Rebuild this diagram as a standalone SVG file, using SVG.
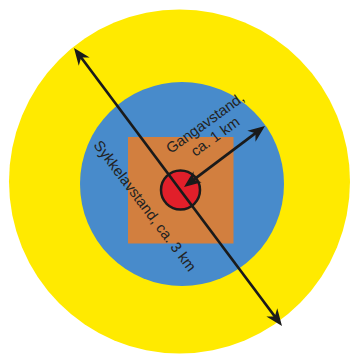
<svg xmlns="http://www.w3.org/2000/svg" width="352" height="354" viewBox="0 0 352 354">
  <style>
    .lbl { font-family: "Liberation Sans", Arial, sans-serif; font-size: 14.8px; fill: #222; text-anchor: middle; }
    .arrow { stroke: #1a1a1a; stroke-width: 2.7; fill: none; marker-start: url(#head); marker-end: url(#head); }
  </style>
  <defs>
    <marker id="head" markerUnits="userSpaceOnUse" markerWidth="20" markerHeight="16" viewBox="0 -8 20 16" refX="6" refY="0" orient="auto-start-reverse">
      <path d="M17,0 L0,-6.8 L5,0 L0,6.8 Z" fill="#1a1a1a"/>
    </marker>
  </defs>
  <rect width="352" height="354" fill="#ffffff"/>
  <g id="zone-sykkel">
    <ellipse cx="179.5" cy="181.5" rx="170.5" ry="172" fill="#ffea00"/>
  </g>
  <g id="zone-gang">
    <circle cx="182" cy="184" r="102" fill="#488bcb"/>
  </g>
  <g id="sentrum">
    <rect x="128" y="137" width="105.5" height="106.5" fill="#d27f3f"/>
  </g>
  <g id="punkt">
    <circle cx="180.5" cy="190" r="19.5" fill="#e11f2a" stroke="#1a1a1a" stroke-width="2.5"/>
  </g>
  <g id="connectors">
    <line class="arrow" x1="80.6" y1="56.8" x2="275.4" y2="317.2"/>
    <line class="arrow" x1="192.8" y1="180.4" x2="256.2" y2="132.6"/>
  </g>
  <g id="labels">
    <text class="lbl" transform="translate(208,127) rotate(-36)">Gangavstand,</text>
    <text class="lbl" transform="translate(218,140.5) rotate(-36)">ca. 1 km</text>
    <text class="lbl" transform="translate(141,209) rotate(53)">Sykkelavstand, ca. 3 km</text>
  </g>
</svg>
